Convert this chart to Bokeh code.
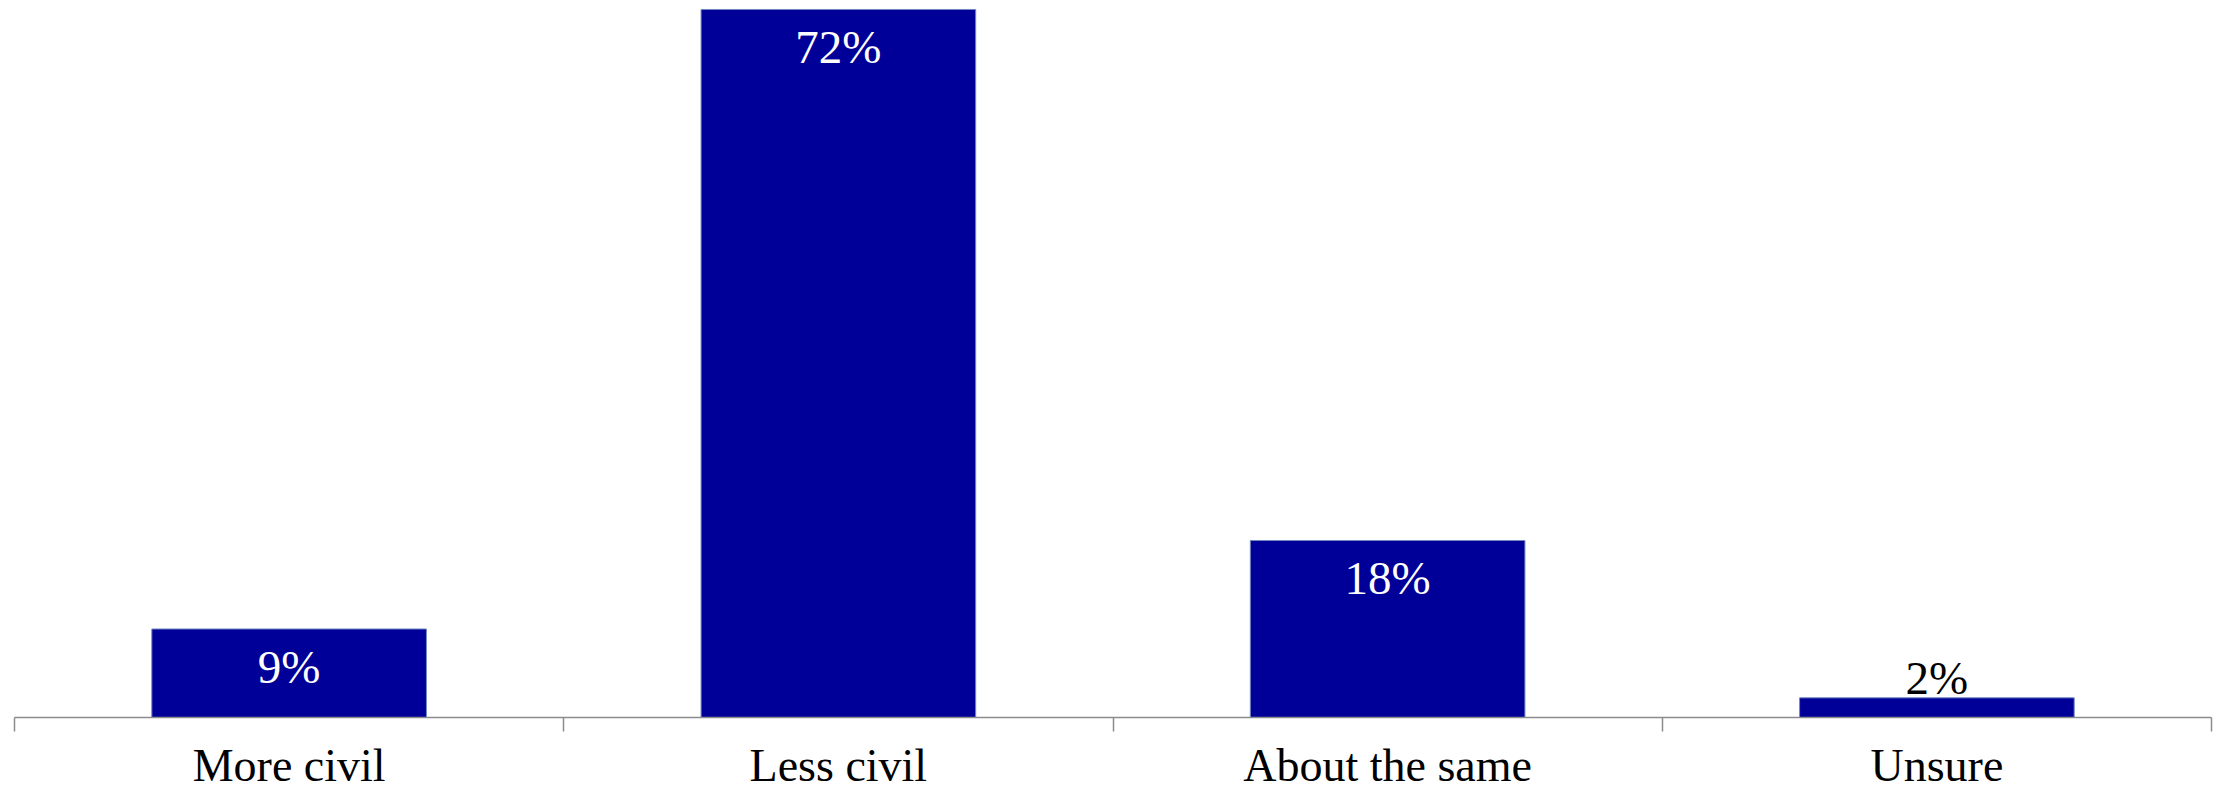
from bokeh.plotting import figure
from bokeh.models import Range1d, FixedTicker, ColumnDataSource
from bokeh.embed import file_html
from bokeh.resources import INLINE
from bokeh.core.properties import value

categories = ["More civil", "Less civil", "About the same", "Unsure"]
values = [9, 72, 18, 2]
labels = ["9%", "72%", "18%", "2%"]

xs = [i + 0.5 for i in range(len(categories))]
inside = [v >= 5 for v in values]
src = ColumnDataSource(dict(
    x=xs, top=values, label=labels,
    color=["#ffffff" if f else "#000000" for f in inside],
    yoff=[38 if f else -20 for f in inside],
))

p = figure(frame_width=2197, frame_height=709, output_backend="svg",
           toolbar_location=None, x_range=Range1d(0, len(categories)),
           y_range=Range1d(0, 72.1), y_axis_type=None,
           min_border_left=14, min_border_right=5, min_border_top=8,
           min_border_bottom=0)
p.outline_line_color = None
p.xgrid.visible = False
p.ygrid.visible = False
p.background_fill_color = "white"

p.vbar(x="x", top="top", width=0.5, bottom=0, source=src,
       fill_color="#000099", line_color="#7089c0", line_width=1)

p.text(x="x", y="top", text="label", source=src, text_color="color",
       text_align="center", text_baseline="alphabetic", y_offset="yoff",
       text_font=value("Liberation Serif"), text_font_size="47px")

ax = p.xaxis[0]
ax.ticker = FixedTicker(ticks=xs, minor_ticks=list(range(len(categories) + 1)))
ax.major_label_overrides = {x: c for x, c in zip(xs, categories)}
ax.major_tick_out = 0
ax.major_tick_in = 0
ax.minor_tick_out = 14
ax.minor_tick_in = 0
ax.minor_tick_line_color = "#8c8c8c"
ax.minor_tick_line_width = 1.5
ax.axis_line_color = "#8c8c8c"
ax.axis_line_width = 1.5
ax.major_label_text_font = "Liberation Serif"
ax.major_label_text_font_size = "46px"
ax.major_label_text_color = "#000000"
ax.major_label_standoff = 8

open("out.html", "w").write(file_html(p, INLINE))
